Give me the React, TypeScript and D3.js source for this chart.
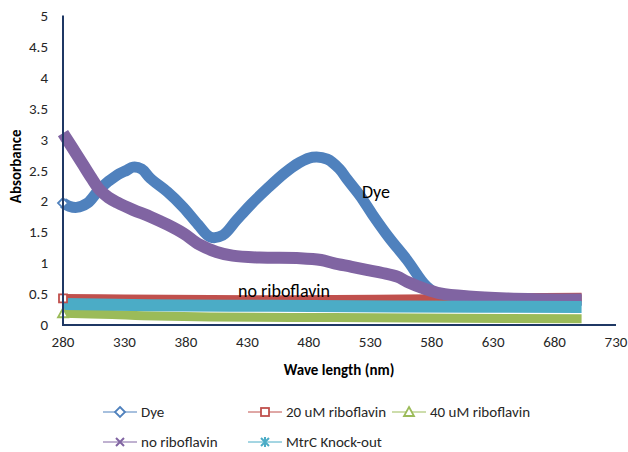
import React from "react";
import * as d3 from "d3";

const xTicks = [280, 330, 380, 430, 480, 530, 580, 630, 680, 730];
const yTicks = [0, 0.5, 1, 1.5, 2, 2.5, 3, 3.5, 4, 4.5, 5];

const dyeX = [280, 285, 291, 300, 310, 324, 332, 337, 344, 351, 365, 378, 390, 400, 410, 421, 433, 446, 460, 472, 483, 495, 505, 511, 522, 532, 545, 560, 576, 590, 620, 660, 702];
const dyeY = [1.97, 1.92, 1.9, 1.97, 2.2, 2.42, 2.5, 2.55, 2.52, 2.37, 2.15, 1.9, 1.62, 1.42, 1.45, 1.69, 1.95, 2.2, 2.45, 2.62, 2.71, 2.68, 2.52, 2.36, 2.08, 1.78, 1.42, 1.05, 0.62, 0.45, 0.41, 0.4, 0.4];

const r20X = [280, 330, 400, 500, 600, 650, 702];
const r20Y = [0.43, 0.42, 0.41, 0.41, 0.43, 0.44, 0.45];

const r40X = [280, 320, 345, 400, 500, 600, 702];
const r40Y = [0.19, 0.17, 0.15, 0.13, 0.12, 0.11, 0.1];

const noRibX = [280, 288, 296, 303, 310, 317, 324, 337, 351, 365, 378, 391, 405, 418, 440, 473, 490, 500, 515, 527, 540, 552, 560, 575, 587, 610, 641, 702];
const noRibY = [3.1, 2.85, 2.6, 2.38, 2.18, 2.06, 1.98, 1.86, 1.75, 1.62, 1.48, 1.3, 1.18, 1.12, 1.09, 1.08, 1.05, 1.0, 0.94, 0.89, 0.84, 0.78, 0.7, 0.58, 0.51, 0.46, 0.43, 0.41];

const mtrcX = [280, 350, 450, 550, 702];
const mtrcY = [0.34, 0.32, 0.31, 0.3, 0.29];

const seriesNames = ["Dye", "20 uM riboflavin", "40 uM riboflavin", "no riboflavin", "MtrC Knock-out"];
const seriesColors = ["#4F81BD", "#C0504D", "#9BBB59", "#8064A2", "#4BACC6"];
const seriesMarkers = ["diamond", "square", "triangle", "x", "star"];
const seriesWidths = [11, 9, 9, 12, 12];

const FONT = "Carlito, Calibri, Lato, 'Liberation Sans', sans-serif";

function Marker({ type, x, y, color }: { type: string; x: number; y: number; color: string }) {
  const s = 4;
  if (type === "diamond")
    return <path d={`M${x},${y - s - 1}L${x + s + 1},${y}L${x},${y + s + 1}L${x - s - 1},${y}Z`} fill="#fff" stroke={color} strokeWidth={1.8} />;
  if (type === "square")
    return <rect x={x - s} y={y - s} width={2 * s} height={2 * s} fill="#fff" stroke={color} strokeWidth={1.8} />;
  if (type === "triangle")
    return <path d={`M${x},${y - s - 1}L${x + s + 1},${y + s}L${x - s - 1},${y + s}Z`} fill="#fff" stroke={color} strokeWidth={1.8} />;
  if (type === "x")
    return <path d={`M${x - s},${y - s}L${x + s},${y + s}M${x - s},${y + s}L${x + s},${y - s}`} stroke={color} strokeWidth={2} />;
  return <path d={`M${x - s},${y - s}L${x + s},${y + s}M${x - s},${y + s}L${x + s},${y - s}M${x},${y - s - 1}L${x},${y + s + 1}`} stroke={color} strokeWidth={2} />;
}

export default function App() {
  const x = d3.scaleLinear().domain([280, 730]).range([63, 616]);
  const y = d3.scaleLinear().domain([0, 5]).range([325, 15.5]);

  const data = [
    dyeX.map((v, i) => [v, dyeY[i]]),
    r20X.map((v, i) => [v, r20Y[i]]),
    r40X.map((v, i) => [v, r40Y[i]]),
    noRibX.map((v, i) => [v, noRibY[i]]),
    mtrcX.map((v, i) => [v, mtrcY[i]]),
  ];

  const line = d3
    .line<number[]>()
    .x((d) => x(d[0]))
    .y((d) => y(d[1]))
    .curve(d3.curveCatmullRom.alpha(0.5));

  const drawOrder = [0, 1, 2, 3, 4];
  const axisColor = "#1F3864";
  const FS = 15;

  const legendItems = [
    { i: 0, lx: 103, ly: 412 },
    { i: 1, lx: 248, ly: 412 },
    { i: 2, lx: 392, ly: 412 },
    { i: 3, lx: 103, ly: 442 },
    { i: 4, lx: 248, ly: 442 },
  ];

  return (
    <svg width={628} height={452} style={{ position: "absolute", left: 0, top: 0, background: "#fff" }} fontFamily={FONT}>
      <rect x={0} y={0} width={628} height={452} fill="#fff" />
      {drawOrder.map((i) => (
        <path key={i} d={line(data[i] as any) || ""} fill="none" stroke={seriesColors[i]} strokeWidth={seriesWidths[i]} strokeLinecap="butt" strokeLinejoin="round" />
      ))}
      {[0, 1, 2].map((i) => (
        <Marker key={i} type={seriesMarkers[i]} x={x(data[i][0][0])} y={y(data[i][0][1])} color={seriesColors[i]} />
      ))}
      <line x1={x(280)} x2={x(280)} y1={y(5)} y2={y(0)} stroke={axisColor} strokeWidth={2} />
      <line x1={x(280) - 1} x2={x(730)} y1={y(0)} y2={y(0)} stroke={axisColor} strokeWidth={2} />
      {yTicks.map((t) => (
        <text key={t} x={48} y={y(t)} dy="0.35em" textAnchor="end" fontSize={FS} fill="#262626">
          {t}
        </text>
      ))}
      {xTicks.map((t) => (
        <text key={t} x={x(t)} y={347} textAnchor="middle" fontSize={FS} fill="#262626">
          {t}
        </text>
      ))}
      <text x={339} y={375} textAnchor="middle" fontSize={FS} fontWeight="bold" fill="#000">
        Wave length (nm)
      </text>
      <text transform={`translate(21,${y(2.5) - 4}) rotate(-90)`} textAnchor="middle" fontSize={FS} fontWeight="bold" fill="#000">
        Absorbance
      </text>
      <text x={362} y={198} fontSize={18} fill="#000">Dye</text>
      <text x={238} y={297} fontSize={18} fill="#000">no riboflavin</text>
      {legendItems.map(({ i, lx, ly }) => (
        <g key={i}>
          <line x1={lx} x2={lx + 34} y1={ly} y2={ly} stroke={seriesColors[i]} strokeWidth={1} />
          <Marker type={seriesMarkers[i]} x={lx + 17} y={ly} color={seriesColors[i]} />
          <text x={lx + 38} y={ly} dy="0.35em" fontSize={FS} fill="#262626">
            {seriesNames[i]}
          </text>
        </g>
      ))}
    </svg>
  );
}
